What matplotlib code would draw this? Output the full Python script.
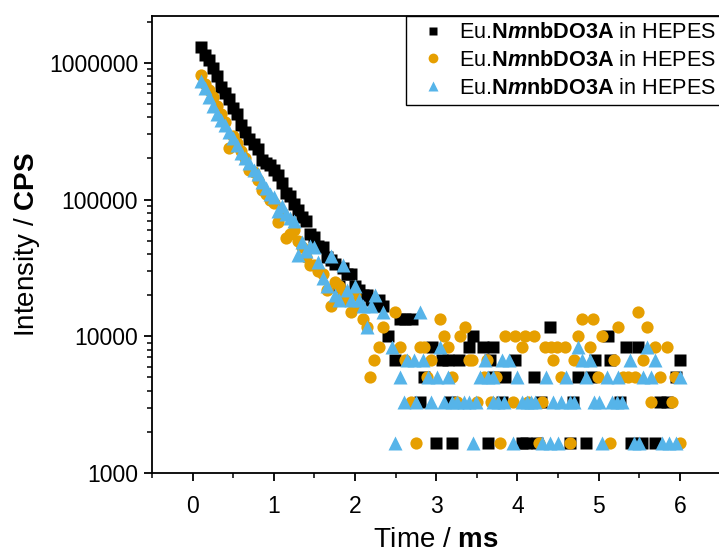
import numpy as np
import matplotlib
matplotlib.use("Agg")
import matplotlib.pyplot as plt
from matplotlib.ticker import LogLocator, NullFormatter, FixedLocator, MultipleLocator

plt.rcParams['font.family'] = ['Liberation Sans', 'DejaVu Sans']
plt.rcParams['mathtext.fontset'] = 'custom'
plt.rcParams['mathtext.rm'] = 'Liberation Sans'
plt.rcParams['mathtext.it'] = 'Liberation Sans:italic'
plt.rcParams['mathtext.bf'] = 'Liberation Sans:bold'
plt.rcParams['mathtext.bfit'] = 'Liberation Sans:italic:bold'

# ---------------- data ----------------
label = r'Eu.$\mathbf{N}\mathbfit{m}\mathbf{nbDO3A}$ in HEPES'

# Series 1 (black squares)
black_t = [0.10, 0.15, 0.20, 0.25, 0.30, 0.35, 0.40, 0.45, 0.50, 0.55, 0.60, 0.65,
           0.70, 0.75, 0.80, 0.85, 0.90, 0.95, 1.00, 1.05, 1.10, 1.15, 1.20, 1.25,
           1.30, 1.35, 1.40, 1.45, 1.50, 1.55, 1.60, 1.65, 1.70, 1.75, 1.80, 1.85,
           1.90, 1.95, 2.00, 2.05, 2.10, 2.15, 2.20, 2.25, 2.30, 2.35, 2.40,
           2.55, 2.62, 2.70,
           3.45, 5.12,
           4.40,
           2.95, 3.40, 3.57, 3.70, 5.34, 5.49,
           2.49, 3.07, 3.15, 3.28, 3.66, 3.97, 4.95, 5.14, 6.00,
           2.85, 3.70, 3.85, 4.20, 4.74, 4.90, 5.95,
           2.80, 3.17, 3.81, 4.29, 4.68, 5.26, 5.76, 5.84,
           3.00, 3.20, 3.64, 4.05, 4.10, 4.24, 4.65, 4.85, 5.40, 5.53, 5.69]
black_v = [1300000, 1150000, 1050000, 920000, 800000, 670000, 600000, 540000, 470000, 420000, 350000, 310000,
           275000, 255000, 235000, 195000, 185000, 180000, 165000, 150000, 132000, 112000, 106000, 93000,
           84000, 75000, 70000, 56000, 53000, 46000, 45000, 38000, 36000, 34000, 23333, 31667,
           28333, 28333, 23333, 21667, 20000, 20000, 18333, 16667, 18333, 16667, 10000,
           13333, 13333, 13333,
           10000, 10000,
           11667,
           8333, 8333, 8333, 8333, 8333, 8333,
           6667, 6667, 6667, 6667, 6667, 6667, 6667, 6667, 6667,
           5000, 5000, 5000, 5000, 5000, 5000, 5000,
           3333, 3333, 3333, 3333, 3333, 3333, 3333, 3333,
           1667, 1667, 1667, 1667, 1667, 1667, 1667, 1667, 1667, 1667, 1667]

# Series 2 (orange circles)
orange_t = [0.10, 0.15, 0.20, 0.25, 0.30, 0.35, 0.40, 0.45, 0.50, 0.55, 0.60, 0.65,
            0.70, 0.75, 0.80, 0.85, 0.90, 0.95, 1.00, 1.05, 1.10, 1.15, 1.20, 1.25,
            1.30, 1.35, 1.40, 1.45, 1.50, 1.55, 1.60, 1.65, 1.70, 1.75, 1.80, 1.85,
            1.90, 1.95, 2.00, 2.05, 2.10, 2.15,
            2.49, 5.49,
            3.05, 4.79, 4.93,
            2.35, 3.35, 5.24, 5.59,
            3.10, 3.29, 3.85, 3.97, 4.09, 4.20, 4.75, 5.04,
            2.29, 2.55, 2.80, 2.85, 3.15, 4.05, 4.34, 4.41, 4.49, 4.58, 4.89, 5.69, 5.84,
            2.23, 2.62, 2.94, 3.40, 3.44, 3.63, 4.44, 4.69, 5.19, 5.55,
            2.19, 2.89, 3.20, 3.59, 3.74, 4.54, 4.99, 5.30, 5.36, 5.45, 5.75, 5.94,
            2.69, 3.25, 3.50, 3.68, 3.95, 4.13, 4.30, 5.65, 5.90,
            2.75, 3.79, 4.26, 4.65, 5.14, 6.00]
orange_v = [810000, 700000, 630000, 560000, 480000, 420000, 370000, 240000, 290000, 260000, 225000, 200000,
            165000, 160000, 140000, 118000, 110000, 100000, 95000, 69000, 80000, 52000, 56000, 60000,
            50000, 45000, 38000, 33333, 33333, 30000, 28333, 21667, 16667, 25000, 23333, 20000,
            18333, 15000, 20000, 16667, 13333, 11667,
            15000, 15000,
            13333, 13333, 13333,
            11667, 11667, 11667, 11667,
            10000, 10000, 10000, 10000, 10000, 10000, 10000, 10000,
            8333, 8333, 8333, 8333, 8333, 8333, 8333, 8333, 8333, 8333, 8333, 8333, 8333,
            6667, 6667, 6667, 6667, 6667, 6667, 6667, 6667, 6667, 6667,
            5000, 5000, 5000, 5000, 5000, 5000, 5000, 5000, 5000, 5000, 5000, 5000,
            3333, 3333, 3333, 3333, 3333, 3333, 3333, 3333, 3333,
            1667, 1667, 1667, 1667, 1667, 1667]

# Series 3 (blue triangles)
blue_t = [0.10, 0.15, 0.20, 0.25, 0.30, 0.35, 0.40, 0.45, 0.50, 0.55, 0.60, 0.65,
          0.70, 0.75, 0.80, 0.85, 0.90, 0.95, 1.00, 1.05, 1.10, 1.15, 1.20, 1.25,
          1.30, 1.35, 1.40, 1.45, 1.50, 1.55, 1.60, 1.65, 1.70, 1.75, 1.80, 1.85,
          1.90, 1.95, 2.00, 2.05, 2.10, 2.15, 2.20, 2.25, 2.35,
          2.80,
          2.45, 3.05, 4.75, 5.59,
          2.64, 2.72, 2.84, 3.60, 3.81, 3.90, 4.80, 4.89, 5.39, 5.69,
          2.55, 2.90, 3.01, 3.15, 3.54, 3.64, 3.70, 4.00, 4.35, 4.60, 4.85, 5.10, 5.24, 5.55, 5.65, 6.00,
          2.60, 2.75, 2.94, 3.10, 3.20, 3.25, 3.34, 3.40, 3.49, 3.70, 3.76, 3.84, 4.06, 4.12, 4.17, 4.22,
          4.44, 4.54, 4.65, 4.69, 4.94, 5.01, 5.16, 5.22, 5.29,
          2.49, 3.45, 3.95, 4.30, 4.40, 4.50, 5.04, 5.43, 5.50, 5.78, 5.86, 5.95]
blue_v = [740000, 650000, 560000, 480000, 420000, 380000, 350000, 310000, 280000, 250000, 220000, 200000,
          185000, 165000, 155000, 135000, 122000, 110000, 105000, 83000, 90000, 78000, 73000, 70000,
          39000, 49000, 42000, 46000, 45000, 35000, 26667, 23333, 38333, 20000, 18333, 33333,
          21667, 18333, 23333, 18333, 16667, 11667, 16667, 20000, 15000,
          15000,
          8333, 8333, 8333, 8333,
          6667, 6667, 6667, 6667, 6667, 6667, 6667, 6667, 6667, 6667,
          5000, 5000, 5000, 5000, 5000, 5000, 5000, 5000, 5000, 5000, 5000, 5000, 5000, 5000, 5000, 5000,
          3333, 3333, 3333, 3333, 3333, 3333, 3333, 3333, 3333, 3333, 3333, 3333, 3333, 3333, 3333, 3333,
          3333, 3333, 3333, 3333, 3333, 3333, 3333, 3333, 3333,
          1667, 1667, 1667, 1667, 1667, 1667, 1667, 1667, 1667, 1667, 1667, 1667]

x_ticks = [0, 1, 2, 3, 4, 5, 6]
y_ticks = [1000, 10000, 100000, 1000000]
y_ticklabels = ['1000', '10000', '100000', '1000000']

# ---------------- figure ----------------
fig = plt.figure(figsize=(7.19, 5.52), dpi=100)
ax = fig.add_axes([152 / 719, 1 - 473 / 552, (720.5 - 152) / 719, (473 - 16) / 552])

ax.plot(black_t, black_v, linestyle='none', marker='s', ms=8.0, color='#000000',
        mec='none', label=label, zorder=3)
ax.plot(orange_t, orange_v, linestyle='none', marker='o', ms=8.8, color='#E69F00',
        mec='none', label=label, zorder=4)
ax.plot(blue_t, blue_v, linestyle='none', marker='^', ms=9.6, color='#56B4E9',
        mec='none', label=label, zorder=5)

ax.set_yscale('log')
ax.set_ylim(1000, 2.2e6)
ax.set_xlim(-0.5, 6.5)

ax.yaxis.set_major_locator(FixedLocator(y_ticks))
ax.set_yticklabels(y_ticklabels)
ax.yaxis.set_minor_locator(LogLocator(base=10, subs=np.arange(2, 10)))
ax.yaxis.set_minor_formatter(NullFormatter())
ax.xaxis.set_major_locator(FixedLocator(x_ticks))
ax.xaxis.set_minor_locator(MultipleLocator(0.5))

for s in ax.spines.values():
    s.set_linewidth(1.3)
ax.tick_params(which='major', direction='out', length=6, width=1.3, labelsize=16.5)
ax.tick_params(which='minor', direction='out', length=3.5, width=1.1)
ax.tick_params(axis='y', which='major', pad=4)
ax.tick_params(axis='x', which='major', pad=10)

ax.set_xlabel(r'Time / $\mathbf{ms}$', fontsize=20, labelpad=6)
ax.set_ylabel(r'Intensity / $\mathbf{CPS}$', fontsize=20, labelpad=5)

leg = ax.legend(loc='upper right', bbox_to_anchor=(722 / 719, 1 - 16 / 552),
                bbox_transform=fig.transFigure, fontsize=15.6, frameon=True,
                fancybox=False, edgecolor='black', framealpha=1, borderaxespad=0,
                borderpad=0.3, handlelength=1.9, handletextpad=0.25, labelspacing=0.3,
                markerscale=0.8)
leg.get_frame().set_linewidth(1.0)

fig.savefig('out.png', dpi=100)
